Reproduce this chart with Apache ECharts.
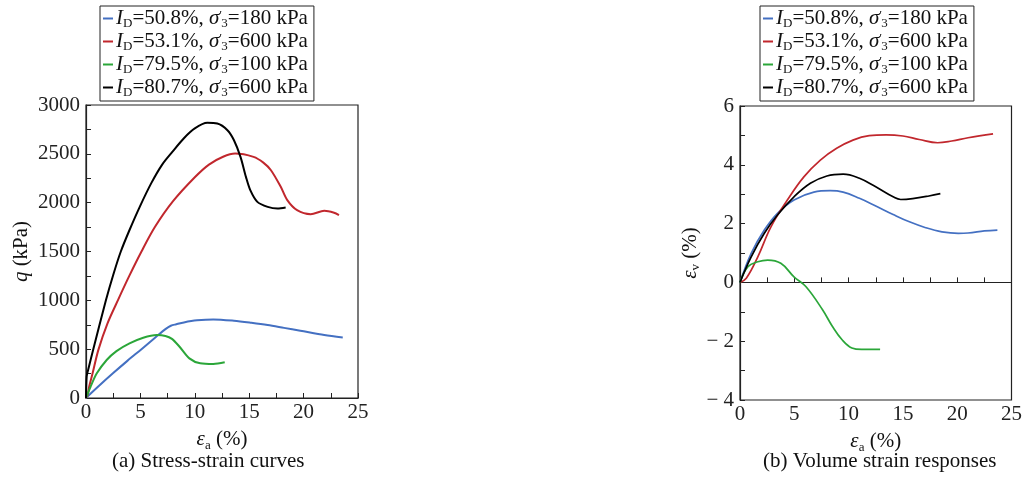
<!DOCTYPE html>
<html>
<head>
<meta charset="utf-8">
<script src="https://cdn.jsdelivr.net/npm/echarts@6/dist/echarts.min.js"></script>
<style>
  html, body { margin: 0; padding: 0; background: #fff; }
  #chart { width: 1025px; height: 478px; }
</style>
</head>
<body>
<div id="chart"></div>
<script>
// legend labels
var names = ['s1', 's2', 's3', 's4']
var densities = ['50.8', '53.1', '79.5', '80.7']
var pressures = ['180', '600', '100', '600']
var colors = ['#4470c2', '#c1272d', '#2ba639', '#000000']

// (a) q (kPa) vs axial strain (%)
var qLoose180 = [[0, 0], [1.2, 125], [2.5, 255], [3.8, 380], [5.1, 500], [6.4, 622], [7.3, 705], [7.8, 740], [8.3, 755], [9.0, 774], [10.2, 795], [11.7, 805], [13.6, 791], [15.2, 770], [16.7, 747], [18.2, 718], [19.7, 689], [21.9, 645], [23.6, 620]]
var qLoose600 = [[0, 0], [0.15, 30], [0.3, 120], [0.6, 250], [1.13, 490], [1.96, 760], [2.97, 1010], [4.0, 1255], [5.1, 1500], [6.33, 1750], [8.0, 2015], [10.0, 2260], [11.3, 2390], [12.6, 2470], [13.7, 2503], [15.4, 2469], [16.3, 2410], [17.0, 2332], [17.9, 2162], [18.5, 2026], [19.4, 1923], [20.65, 1882], [21.9, 1916], [22.8, 1896], [23.25, 1872]]
var qDense100 = [[0, 0], [0.4, 110], [0.98, 250], [1.9, 389], [2.8, 480], [4.0, 559], [5.26, 617], [6.5, 644], [7.3, 635], [7.9, 605], [8.6, 525], [9.5, 406], [10.5, 355], [11.7, 348], [12.75, 365]]
var qDense600 = [[0, 0], [0.06, 218], [0.2, 290], [0.67, 500], [1.83, 1000], [2.5, 1260], [3.2, 1500], [4.0, 1720], [4.95, 1960], [6.0, 2200], [7.0, 2390], [7.86, 2510], [9.0, 2660], [10.0, 2760], [11.15, 2817], [12.07, 2810], [13.0, 2742], [13.6, 2639], [14.2, 2469], [14.7, 2264], [15.1, 2128], [15.75, 2008], [16.7, 1957], [17.6, 1940], [18.35, 1950]]

// (b) volumetric strain (%) vs axial strain (%)
var evLoose180 = [[0, 0], [1.03, 0.99], [2.24, 1.78], [3.45, 2.35], [4.97, 2.8], [6.8, 3.07], [8.3, 3.12], [9.5, 3.07], [11.0, 2.86], [12.5, 2.6], [14.1, 2.31], [15.6, 2.06], [17.1, 1.86], [18.6, 1.72], [20.1, 1.67], [21.0, 1.68], [22.5, 1.75], [23.7, 1.78]]
var evLoose600 = [[0, 0], [0.58, 0.14], [1.64, 0.87], [2.85, 1.89], [4.36, 2.8], [5.88, 3.59], [7.4, 4.16], [8.9, 4.56], [10.4, 4.84], [11.9, 4.99], [13.45, 5.02], [15.0, 4.98], [16.5, 4.86], [18.2, 4.75], [19.5, 4.81], [21.0, 4.92], [23.3, 5.05]]
var evDense100 = [[0, 0], [0.73, 0.53], [1.64, 0.7], [2.55, 0.76], [3.76, 0.65], [4.97, 0.19], [6.06, -0.14], [7.6, -0.93], [8.5, -1.49], [9.4, -1.95], [10.3, -2.23], [11.2, -2.28], [12.9, -2.28]]
var evDense600 = [[0, 0], [1.03, 0.87], [2.24, 1.67], [3.45, 2.29], [4.97, 2.91], [6.48, 3.37], [8.0, 3.62], [9.5, 3.68], [11.0, 3.54], [12.5, 3.25], [14.1, 2.91], [14.8, 2.82], [15.9, 2.85], [17.4, 2.94], [18.45, 3.02]]

var qSets = [qLoose180, qLoose600, qDense100, qDense600]
var evSets = [evLoose180, evLoose600, evDense100, evDense600]

var serif = 'Liberation Serif'
var rich = {
  n: { fontFamily: serif, fontSize: 21, lineHeight: 23, color: '#111' },
  i: { fontFamily: serif, fontSize: 21, lineHeight: 23, fontStyle: 'italic', color: '#111' },
  sub: { fontFamily: serif, fontSize: 13, lineHeight: 13, padding: [10, 0, 0, 0], color: '#111' },
  sup: { fontFamily: serif, fontSize: 13, lineHeight: 13, padding: [0, 0, 6, 0], width: 2, color: '#111' }
}
var nameRich = {
  n: { fontFamily: serif, fontSize: 21, lineHeight: 24, color: '#111' },
  i: { fontFamily: serif, fontSize: 21, lineHeight: 24, fontStyle: 'italic', color: '#111' },
  sub: { fontFamily: serif, fontSize: 13, lineHeight: 13, padding: [11, 0, 0, 0], color: '#111' }
}

function legendText (name) {
  var k = names.indexOf(name)
  return '{i|I}{sub|D}{n|=' + densities[k] + '%, }{i|σ}{sup|′}{sub|3}{n|=' + pressures[k] + ' kPa}'
}

function makeLegend (left) {
  return {
    orient: 'vertical',
    left: left,
    top: 6,
    data: names,
    icon: 'rect',
    itemWidth: 10,
    itemHeight: 2,
    itemGap: 0,
    padding: [1, 6, 2, 3],
    borderColor: '#222',
    borderWidth: 1,
    formatter: legendText,
    textStyle: { rich: rich, padding: [0, 0, 0, -2] }
  }
}

var tickFont = { fontFamily: serif, fontSize: 21, color: '#222' }

function xAxisFor (gi) {
  return {
    type: 'value', gridIndex: gi, min: 0, max: 25, interval: 5,
    name: '{i|ε}{sub|a}{n| (%)}', nameLocation: 'middle', nameGap: 28,
    nameTextStyle: { rich: nameRich },
    axisLine: { lineStyle: { color: '#222', width: 1.2 } },
    axisTick: { inside: true, length: 5, lineStyle: { color: '#222' } },
    minorTick: { show: true, splitNumber: 2, length: 5, lineStyle: { color: '#222' } },
    splitLine: { show: false },
    axisLabel: Object.assign({ margin: 4 }, tickFont)
  }
}

var chart = echarts.init(document.getElementById('chart'))
var series = []
names.forEach(function (nm, k) {
  series.push({ name: nm, type: 'line', xAxisIndex: 0, yAxisIndex: 0, data: qSets[k], showSymbol: false, smooth: 0.3, lineStyle: { color: colors[k], width: 2 }, itemStyle: { color: colors[k] } })
  series.push({ name: nm, type: 'line', xAxisIndex: 1, yAxisIndex: 1, data: evSets[k], showSymbol: false, smooth: 0.4, lineStyle: { color: colors[k], width: 1.7 }, itemStyle: { color: colors[k] } })
})

chart.setOption({
  animation: false,
  backgroundColor: '#fff',
  legend: [makeLegend(100), makeLegend(760)],
  grid: [
    { left: 86, top: 105, width: 272, height: 293, show: true, borderColor: '#222', borderWidth: 1.2 },
    { left: 740, top: 106, width: 275, height: 294, show: true, borderColor: '#222', borderWidth: 1.2 }
  ],
  xAxis: [xAxisFor(0), xAxisFor(1)],
  yAxis: [
    {
      type: 'value', gridIndex: 0, min: 0, max: 3000, interval: 500,
      name: '{i|q}{n| (kPa)}', nameLocation: 'middle', nameGap: 53, nameRotate: 90,
      nameTextStyle: { rich: nameRich },
      axisLine: { lineStyle: { color: '#222', width: 1.2 } },
      axisTick: { inside: true, length: 5, lineStyle: { color: '#222' } },
      minorTick: { show: true, splitNumber: 2, length: 5, lineStyle: { color: '#222' } },
      splitLine: { show: false },
      axisLabel: Object.assign({ margin: 6, formatter: function (v) { return String(v) } }, tickFont)
    },
    {
      type: 'value', gridIndex: 1, min: -4, max: 6, interval: 2,
      name: '{i|ε}{sub|v}{n| (%)}', nameLocation: 'middle', nameGap: 30, nameRotate: 90,
      nameTextStyle: { rich: nameRich },
      axisLine: { lineStyle: { color: '#222', width: 1.2 } },
      axisTick: { inside: true, length: 5, lineStyle: { color: '#222' } },
      minorTick: { show: true, splitNumber: 2, length: 5, lineStyle: { color: '#222' } },
      splitLine: { show: false },
      axisLabel: Object.assign({ margin: 6, formatter: function (v) { return v < 0 ? '− ' + Math.abs(v) : String(v) } }, tickFont)
    }
  ],
  graphic: [
    { type: 'text', left: 112, top: 451, style: { text: '(a) Stress-strain curves', fontFamily: serif, fontSize: 21, fill: '#111' } },
    { type: 'text', left: 763, top: 451, style: { text: '(b) Volume strain responses', fontFamily: serif, fontSize: 21, fill: '#111' } }
  ],
  series: series
})
</script>
</body>
</html>
